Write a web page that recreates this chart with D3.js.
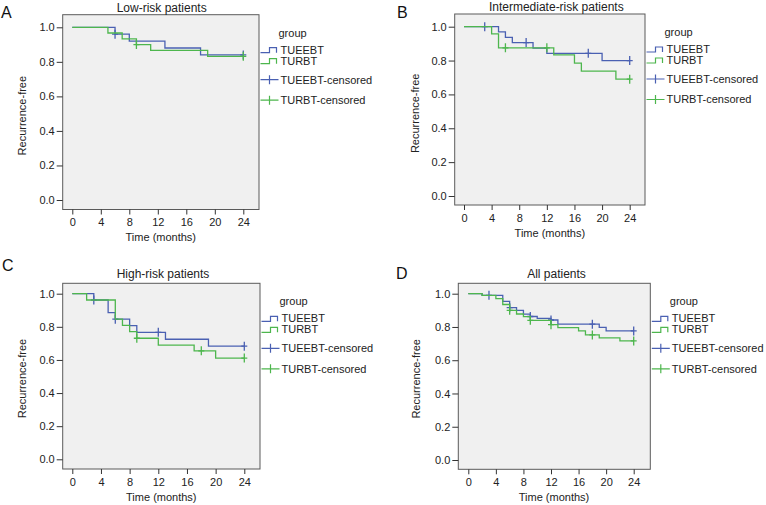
<!DOCTYPE html>
<html><head><meta charset="utf-8">
<script src="https://cdn.jsdelivr.net/npm/d3@7"></script>
<style>body{margin:0;background:#fff}svg{display:block;font-family:"Liberation Sans",Arial,Helvetica,sans-serif}</style>
</head><body><svg id="c" width="766" height="505"></svg>
<script>
// ---------- data ----------
const monthTicks = [0, 4, 8, 12, 16, 20, 24];
const survTicks = [0, 0.2, 0.4, 0.6, 0.8, 1.0];
const legendLabels = ["TUEEBT", "TURBT", "TUEEBT-censored", "TURBT-censored"];
const panelTitles = ["Low-risk patients", "Intermediate-risk patients", "High-risk patients", "All patients"];
const panelLetters = ["A", "B", "C", "D"];

// A: low risk
const lowTueebtTime = [0, 6, 8, 13, 18];
const lowTueebtSurv = [1.0, 0.96, 0.92, 0.88, 0.84];
const lowTueebtCens = [6, 24];
const lowTurbtTime = [0, 5, 7, 9, 11, 19];
const lowTurbtSurv = [1.0, 0.967, 0.933, 0.90, 0.866, 0.832];
const lowTurbtCens = [9, 24];

// B: intermediate risk
const intTueebtTime = [0, 5, 6, 7, 10, 12, 20];
const intTueebtSurv = [1.0, 0.969, 0.937, 0.906, 0.874, 0.843, 0.80];
const intTueebtCens = [3, 9, 18, 24];
const intTurbtTime = [0, 4, 5, 13, 16, 17, 22];
const intTurbtSurv = [1.0, 0.958, 0.875, 0.834, 0.785, 0.738, 0.69];
const intTurbtCens = [6, 12, 24];

// C: high risk
const highTueebtTime = [0, 3, 5, 6, 8, 9, 13, 19];
const highTueebtSurv = [1.0, 0.962, 0.886, 0.846, 0.807, 0.767, 0.725, 0.683];
const highTueebtCens = [3, 6, 12, 24];
const highTurbtTime = [0, 2, 6, 7, 8, 9, 12, 17, 20];
const highTurbtSurv = [1.0, 0.962, 0.846, 0.809, 0.771, 0.731, 0.690, 0.655, 0.611];
const highTurbtCens = [9, 18, 24];

// D: all patients
const allTueebtTime = [0, 2, 5, 6, 7, 8, 9, 10, 12, 13, 19, 20];
const allTueebtSurv = [1.0, 0.99, 0.954, 0.916, 0.900, 0.877, 0.863, 0.852, 0.842, 0.817, 0.798, 0.776];
const allTueebtCens = [3, 6, 9, 12, 18, 24];
const allTurbtTime = [0, 2, 4, 5, 6, 7, 8, 9, 12, 13, 16, 17, 19, 22];
const allTurbtSurv = [1.0, 0.99, 0.970, 0.935, 0.900, 0.878, 0.862, 0.840, 0.814, 0.796, 0.776, 0.752, 0.734, 0.716];
const allTurbtCens = [6, 9, 12, 18, 24];

const panelData = [
  [[lowTueebtTime, lowTueebtSurv, lowTueebtCens], [lowTurbtTime, lowTurbtSurv, lowTurbtCens]],
  [[intTueebtTime, intTueebtSurv, intTueebtCens], [intTurbtTime, intTurbtSurv, intTurbtCens]],
  [[highTueebtTime, highTueebtSurv, highTueebtCens], [highTurbtTime, highTurbtSurv, highTurbtCens]],
  [[allTueebtTime, allTueebtSurv, allTueebtCens], [allTurbtTime, allTurbtSurv, allTurbtCens]]
];

// ---------- layout ----------
const colors = ["#4a60b2", "#4db64d"];
const layout = [
  {box:{l:62.7,r:259,t:14.7,b:209.5}, xr:[72.3,243.3], yr:[200,27.3], title:[161.7,7.5], letter:[1,18.3], yl:41},
  {box:{l:454.7,r:645,t:14,b:205}, xr:[464,629.7], yr:[196,26.7], title:[556.3,7], letter:[397,18.3], yl:40},
  {box:{l:62.7,r:260,t:283.3,b:469}, xr:[72.3,244.3], yr:[459.3,293.7], title:[163,274], letter:[2,271], yl:41},
  {box:{l:458.3,r:650.3,t:283.3,b:469.3}, xr:[468.3,633.7], yr:[460,293.7], title:[556.5,273.5], letter:[396,279.3], yl:42}
];

const svg = d3.select("#c");
const txt = "#222";

function stepAt(times, surv, t) {
  let v = surv[0];
  for (let i = 0; i < times.length; i++) if (times[i] <= t) v = surv[i];
  return v;
}

layout.forEach((L, pi) => {
  const g = svg.append("g");
  const x = d3.scaleLinear().domain([0, 24]).range(L.xr);
  const y = d3.scaleLinear().domain([0, 1]).range(L.yr);
  const b = L.box;

  g.append("rect").attr("x", b.l).attr("y", b.t).attr("width", b.r - b.l).attr("height", b.b - b.t)
    .attr("fill", "#f0f0f0").attr("stroke", "#5a5a5a").attr("stroke-width", 1);

  // axes
  const ya = g.append("g").attr("transform", `translate(${b.l},0)`)
    .call(d3.axisLeft(y).tickValues(survTicks).tickFormat(d3.format(".1f")).tickSize(6).tickPadding(2));
  const xa = g.append("g").attr("transform", `translate(0,${b.b})`)
    .call(d3.axisBottom(x).tickValues(monthTicks).tickSize(5).tickPadding(4));
  [ya, xa].forEach(a => {
    a.select(".domain").remove();
    a.selectAll("line").attr("stroke", "#333");
    a.selectAll("text").attr("font-size", 11).attr("fill", txt).attr("font-family", null);
  });

  g.append("text").attr("x", (L.xr[0] + L.xr[1]) / 2 + 3).attr("y", b.b + 28).attr("dy", "0.35em")
    .attr("text-anchor", "middle").attr("font-size", 11).attr("fill", txt).text("Time (months)");
  g.append("text").attr("transform", `translate(${b.l - L.yl},${(L.yr[0] + L.yr[1]) / 2 + 2}) rotate(-90)`)
    .attr("dy", "0.35em").attr("text-anchor", "middle").attr("font-size", 11).attr("fill", txt).text("Recurrence-free");
  g.append("text").attr("x", L.title[0]).attr("y", L.title[1]).attr("dy", "0.35em")
    .attr("text-anchor", "middle").attr("font-size", 12).attr("fill", txt).text(panelTitles[pi]);
  g.append("text").attr("x", L.letter[0]).attr("y", L.letter[1])
    .attr("font-size", 16).attr("fill", "#111").text(panelLetters[pi]);

  // curves
  const line = d3.line().x(d => x(d[0])).y(d => y(d[1])).curve(d3.curveStepAfter);
  panelData[pi].forEach(([times, surv, cens], gi) => {
    const end = d3.max(cens);
    const pts = times.map((t, i) => [t, surv[i]]);
    pts.push([end, surv[surv.length - 1]]);
    g.append("path").attr("d", line(pts)).attr("fill", "none")
      .attr("stroke", colors[gi]).attr("stroke-width", 1.3);
    g.selectAll(null).data(cens).enter().append("path")
      .attr("d", t => {
        const cx = x(t), cy = y(stepAt(times, surv, t));
        return `M${cx},${cy - 4.5}V${cy + 4.5}M${cx - 3},${cy}H${cx + 3}`;
      })
      .attr("stroke", colors[gi]).attr("stroke-width", 1.3).attr("fill", "none");
  });

  // legend
  const lx = b.r + 1.5;
  const gy = (b.t + 18);
  g.append("text").attr("x", lx + 18).attr("y", gy).attr("dy", "0.35em").attr("font-size", 11).attr("fill", txt).text("group");
  const offs = [17, 28, 47, 67.5];
  legendLabels.forEach((lab, li) => {
    const cy = gy + offs[li];
    const col = colors[li % 2];
    let d;
    if (li < 2) d = `M${lx},${cy + 3}H${lx + 9}V${cy - 2}H${lx + 16}V${cy + 3}`;
    else d = `M${lx},${cy}H${lx + 18}M${lx + 9},${cy - 4.5}V${cy + 4.5}`;
    g.append("path").attr("d", d).attr("fill", "none").attr("stroke", col).attr("stroke-width", 1.2);
    g.append("text").attr("x", lx + 20).attr("y", cy).attr("dy", "0.35em").attr("font-size", 11).attr("fill", txt).text(lab);
  });
});
</script>
</body></html>
